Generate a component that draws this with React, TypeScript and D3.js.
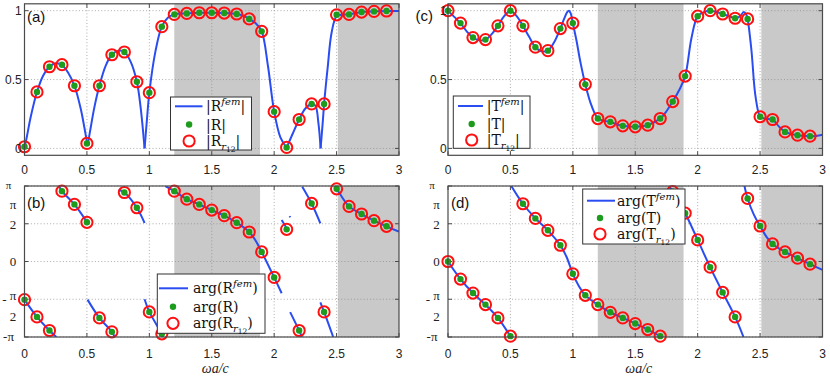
import React from "react";
import * as d3 from "d3";

type Pt = [number, number];

// ---------- data ----------
const omega = [0, 0.1, 0.2, 0.3, 0.4, 0.5, 0.6, 0.7, 0.8, 0.9, 1.0, 1.1, 1.2, 1.3, 1.4, 1.5, 1.6, 1.7, 1.8, 1.9, 2.0, 2.1, 2.2, 2.3, 2.4, 2.5, 2.6, 2.7, 2.8, 2.9];

const absR = [0.012, 0.41, 0.593, 0.608, 0.455, 0.036, 0.455, 0.68, 0.7, 0.484, 0.405, 0.884, 0.973, 0.98, 0.985, 0.985, 0.983, 0.976, 0.94, 0.85, 0.267, 0.007, 0.21, 0.323, 0.323, 0.97, 0.973, 0.99, 0.995, 0.998];
const absT = [1.0, 0.91, 0.805, 0.79, 0.89, 1.0, 0.89, 0.735, 0.71, 0.87, 0.91, 0.465, 0.217, 0.193, 0.164, 0.157, 0.169, 0.217, 0.34, 0.525, 0.96, 1.0, 0.976, 0.945, 0.94, 0.23, 0.21, 0.12, 0.096, 0.089];
// phases in units of pi
const argR = [-0.505, -0.734, -0.914, 0.932, 0.756, 0.519, -0.747, -0.932, 0.914, 0.712, -0.668, -0.958, 0.932, 0.826, 0.756, 0.681, 0.607, 0.514, 0.391, 0.127, -0.211, 0.426, -0.914, 0.769, -0.668, 0.963, 0.73, 0.629, 0.541, 0.466];
const argT = [0, -0.233, -0.418, -0.571, -0.747, -0.989, 0.765, 0.571, 0.413, 0.215, -0.163, -0.448, -0.571, -0.673, -0.747, -0.822, -0.901, -0.989, 0.925, 0.64, 0.286, -0.075, -0.409, -0.734, 0.835, 0.47, 0.233, 0.127, 0.044, -0.035];

const absRFem: Pt[][] = [
  [[0, 0], [0.02, 0.09], [0.05, 0.23], [0.1, 0.41], [0.15, 0.53], [0.2, 0.593], [0.25, 0.618], [0.3, 0.605], [0.35, 0.55], [0.4, 0.455], [0.45, 0.29], [0.48, 0.15], [0.505, 0.02]],
  [[0.505, 0.02], [0.53, 0.15], [0.56, 0.3], [0.6, 0.455], [0.65, 0.6], [0.7, 0.68], [0.75, 0.71], [0.8, 0.7], [0.85, 0.63], [0.9, 0.484], [0.93, 0.3], [0.962, 0]],
  [[0.962, 0], [0.98, 0.2], [1.0, 0.405], [1.05, 0.71], [1.1, 0.884], [1.15, 0.95], [1.2, 0.973], [1.3, 0.98], [1.4, 0.985], [1.5, 0.985], [1.6, 0.983], [1.7, 0.976], [1.75, 0.965], [1.8, 0.94], [1.85, 0.91], [1.9, 0.85], [1.95, 0.6], [2.0, 0.267], [2.05, 0.08], [2.1, 0.005]],
  [[2.1, 0.005], [2.15, 0.11], [2.2, 0.21], [2.25, 0.29], [2.3, 0.323], [2.33, 0.31], [2.355, 0.18], [2.372, 0]],
  [[2.372, 0], [2.39, 0.2], [2.4, 0.323], [2.43, 0.6], [2.46, 0.84], [2.5, 0.96], [2.55, 0.972], [2.6, 0.974], [2.7, 0.99], [2.8, 0.995], [2.9, 0.998], [3.0, 0.998]],
];

const absTFem: Pt[][] = [
  [[0, 1.0], [0.05, 0.955], [0.1, 0.91], [0.15, 0.85], [0.2, 0.805], [0.25, 0.785], [0.3, 0.79], [0.35, 0.83], [0.4, 0.89], [0.45, 0.96], [0.5, 1.0], [0.55, 0.96], [0.6, 0.89], [0.65, 0.81], [0.7, 0.735], [0.75, 0.705], [0.8, 0.71], [0.85, 0.77], [0.9, 0.87], [0.93, 0.94], [0.955, 0.99], [0.97, 1.0], [0.985, 0.975], [1.0, 0.91], [1.03, 0.78], [1.06, 0.63], [1.1, 0.465], [1.15, 0.31], [1.2, 0.22], [1.25, 0.2], [1.3, 0.193], [1.35, 0.175], [1.4, 0.164], [1.5, 0.157], [1.6, 0.169], [1.65, 0.19], [1.7, 0.217], [1.75, 0.27], [1.8, 0.34], [1.85, 0.42], [1.9, 0.525], [1.95, 0.8], [2.0, 0.96], [2.05, 0.99], [2.1, 1.0], [2.15, 0.99], [2.2, 0.976], [2.25, 0.96], [2.3, 0.945], [2.34, 0.96], [2.37, 0.99], [2.39, 0.97], [2.4, 0.94], [2.43, 0.72], [2.46, 0.4], [2.49, 0.25], [2.5, 0.23], [2.55, 0.215], [2.6, 0.21], [2.65, 0.16], [2.7, 0.12], [2.75, 0.105], [2.8, 0.096], [2.9, 0.089], [2.95, 0.09], [3.0, 0.099]],
];

const argRFem: Pt[][] = [
  [[0, -0.505], [0.1, -0.734], [0.2, -0.914], [0.255, -1.0]],
  [[0.277, 1.0], [0.3, 0.932], [0.4, 0.756], [0.505, 0.51]],
  [[0.505, -0.505], [0.6, -0.747], [0.7, -0.932], [0.722, -1.0]],
  [[0.755, 0.95], [0.8, 0.914], [0.9, 0.712], [0.962, 0.51]],
  [[0.962, -0.5], [1.0, -0.668], [1.1, -0.958], [1.11, -1.0]],
  [[1.128, 1.0], [1.2, 0.932], [1.3, 0.826], [1.4, 0.756], [1.5, 0.681], [1.6, 0.607], [1.7, 0.514], [1.8, 0.391], [1.85, 0.28], [1.9, 0.127], [2.0, -0.211], [2.06, -0.42]],
  [[2.06, 0.55], [2.1, 0.44]],
  [[2.124, 0.6], [2.128, 0.585]],
  [[2.128, -0.67], [2.2, -0.914], [2.222, -1.0]],
  [[2.225, 0.99], [2.3, 0.769], [2.37, 0.505]],
  [[2.37, -0.54], [2.4, -0.668], [2.473, -1.0]],
  [[2.48, 1.0], [2.5, 0.963], [2.6, 0.73], [2.7, 0.629], [2.8, 0.541], [2.9, 0.466], [3.0, 0.396]],
];

const argTFem: Pt[][] = [
  [[0, 0], [0.1, -0.233], [0.2, -0.418], [0.3, -0.571], [0.4, -0.747], [0.5, -0.989], [0.505, -1.0]],
  [[0.507, 1.0], [0.6, 0.765], [0.7, 0.571], [0.8, 0.413], [0.9, 0.215], [0.95, 0.06], [1.0, -0.163], [1.05, -0.33], [1.1, -0.448], [1.2, -0.571], [1.3, -0.673], [1.4, -0.747], [1.5, -0.822], [1.6, -0.901], [1.7, -0.989], [1.71, -1.0]],
  [[1.77, 1.0], [1.8, 0.925], [1.9, 0.64], [2.0, 0.286], [2.1, -0.075], [2.2, -0.409], [2.3, -0.734], [2.367, -1.0]],
  [[2.375, 1.0], [2.4, 0.835], [2.45, 0.62], [2.5, 0.47], [2.55, 0.33], [2.6, 0.233], [2.7, 0.127], [2.8, 0.044], [2.9, -0.035], [3.0, -0.11]],
];

const bandStart = [1.2, 2.51];
const bandEnd = [1.887, 3.0];

const xTicks = [0, 0.5, 1, 1.5, 2, 2.5, 3];
const xTickLabels = ["0", "0.5", "1", "1.5", "2", "2.5", "3"];
const absTicks = [0, 0.5, 1];
const absTickLabels = ["0", "0.5", "1"];
const argTicks = [-1, -0.5, 0, 0.5, 1];

// ---------- style ----------
const BLUE = "#2a4df2";
const GREEN = "#1d9b1d";
const RED = "#ff1010";
const FRAME = "#4a4a4a";
const SANS = "'Liberation Sans', Arial, Helvetica, sans-serif";
const SERIF = "'Liberation Serif', 'Times New Roman', serif";
const LSERIF = "'DejaVu Serif', 'Liberation Serif', serif";

type LegendCfg = {
  x: number; y: number; w: number; h: number;
  rows: number[]; lx0: number; lx1: number; mx: number; tx: number;
};

type PanelCfg = {
  id: string;
  x0: number; x1: number; y0: number; y1: number;
  yDom: [number, number];
  phase: boolean;
  fem: Pt[][];
  vals: number[];
  letter: string;
  label: string; labelX: number; labelY: number;
  xLabelDy: number; yLabelGap: number;
  legend: LegendCfg;
};

function legendLabels(phase: boolean, L: string) {
  const sup = (
    <tspan dy={-6} fontSize={10} fontStyle="italic">fem</tspan>
  );
  const open = phase ? "arg(" : "|";
  const close = phase ? ")" : "|";
  return [
    <>{open + L}{sup}<tspan dy={6}>{close}</tspan></>,
    <>{open + L + close}</>,
    <>{open + L}<tspan dy={4} fontSize={10} fontStyle="italic">r</tspan><tspan dy={1.5} fontSize={7.5}>12</tspan><tspan dy={-5.5}>{close}</tspan></>,
  ];
}

function PhaseTickLabels({ x0, ys }: { x0: number; ys: d3.ScaleLinear<number, number> }) {
  const fs = 13;
  const cx = x0 - 11.5;
  const yHalf = ys(0.5);
  const yMHalf = ys(-0.5);
  return (
    <g fontFamily={SERIF} fill="#222" textAnchor="middle">
      <text x={x0 - 16} y={ys(1) + 3} fontSize={11}>π</text>
      <text x={cx} y={yHalf - 14.5} fontSize={fs}>π</text>
      <text x={cx} y={yHalf + 5.5} fontSize={fs}>2</text>
      <text x={cx} y={ys(0) + 4.5} fontSize={fs}>0</text>
      <text x={x0 - 20} y={yMHalf + 5} fontSize={fs}>-</text>
      <text x={cx} y={yMHalf + 0.5} fontSize={fs}>π</text>
      <text x={cx} y={yMHalf + 22} fontSize={fs}>2</text>
      <text x={x0 - 16} y={ys(-1) + 4} fontSize={13}>-π</text>
    </g>
  );
}

function Panel({ cfg }: { cfg: PanelCfg }) {
  const xs = d3.scaleLinear().domain([0, 3]).range([cfg.x0, cfg.x1]);
  const ys = d3.scaleLinear().domain(cfg.yDom).range([cfg.y0, cfg.y1]);
  const line = d3
    .line<Pt>()
    .x((d) => xs(d[0]))
    .y((d) => ys(d[1]))
    .curve(d3.curveCatmullRom.alpha(0.5));
  const yT = cfg.phase ? argTicks : absTicks;
  const clipId = "clip-" + cfg.id;
  const top = ys(cfg.yDom[1]);
  const bottom = ys(cfg.yDom[0]);
  const lg = cfg.legend;
  const labels = legendLabels(cfg.phase, cfg.letter);
  const tickLen = 4;

  return (
    <g>
      <defs>
        <clipPath id={clipId}>
          <rect x={cfg.x0} y={top} width={cfg.x1 - cfg.x0} height={bottom - top} />
        </clipPath>
      </defs>
      <rect x={cfg.x0} y={top} width={cfg.x1 - cfg.x0} height={bottom - top} fill="#fff" />
      {bandStart.map((s, i) => (
        <rect key={i} x={xs(s)} y={top} width={xs(bandEnd[i]) - xs(s)} height={bottom - top} fill="#c9c9c9" />
      ))}
      {/* grid */}
      <g stroke="#8a8a8a" strokeWidth={0.7} strokeDasharray="1,2.2">
        {xTicks.slice(1, -1).map((t) => (
          <line key={"gx" + t} x1={xs(t)} x2={xs(t)} y1={top} y2={bottom} />
        ))}
        {yT.map((t) => (
          <line key={"gy" + t} x1={cfg.x0} x2={cfg.x1} y1={ys(t)} y2={ys(t)} />
        ))}
      </g>
      {/* ticks */}
      <g stroke={FRAME} strokeWidth={1}>
        {xTicks.map((t) => (
          <g key={"tx" + t}>
            <line x1={xs(t)} x2={xs(t)} y1={bottom} y2={bottom - tickLen} />
            <line x1={xs(t)} x2={xs(t)} y1={top} y2={top + tickLen} />
          </g>
        ))}
        {yT.map((t) => (
          <g key={"ty" + t}>
            <line x1={cfg.x0} x2={cfg.x0 + tickLen} y1={ys(t)} y2={ys(t)} />
            <line x1={cfg.x1} x2={cfg.x1 - tickLen} y1={ys(t)} y2={ys(t)} />
          </g>
        ))}
      </g>
      {/* data */}
      <g clipPath={`url(#${clipId})`}>
        {cfg.fem.map((seg, i) => (
          <path key={i} d={line(seg) || ""} fill="none" stroke={BLUE} strokeWidth={2} strokeLinejoin="round" />
        ))}
      </g>
      {omega.map((x, i) => (
        <circle key={"g" + i} cx={xs(x)} cy={ys(cfg.vals[i])} r={3.2} fill={GREEN} />
      ))}
      {omega.map((x, i) => (
        <circle key={"r" + i} cx={xs(x)} cy={ys(cfg.vals[i])} r={5.6} fill="none" stroke={RED} strokeWidth={2} />
      ))}
      {/* frame */}
      <rect x={cfg.x0} y={top} width={cfg.x1 - cfg.x0} height={bottom - top} fill="none" stroke={FRAME} strokeWidth={1.2} />
      {/* x tick labels */}
      <g fontFamily={SANS} fontSize={12} fill="#222" textAnchor="middle">
        {xTicks.map((t, i) => (
          <text key={"xl" + t} x={xs(t)} y={bottom + cfg.xLabelDy}>{xTickLabels[i]}</text>
        ))}
      </g>
      {/* y tick labels */}
      {cfg.phase ? (
        <PhaseTickLabels x0={cfg.x0} ys={ys} />
      ) : (
        <g fontFamily={SANS} fontSize={12} fill="#222" textAnchor="end">
          {absTicks.map((t, i) => (
            <text key={"yl" + t} x={cfg.x0 - cfg.yLabelGap} y={ys(t) + 4.3}>{absTickLabels[i]}</text>
          ))}
        </g>
      )}
      {cfg.phase && (
        <text x={(cfg.x0 + cfg.x1) / 2 + 3.5} y={bottom + 36} fontFamily={SERIF} fontStyle="italic" fontSize={14} textAnchor="middle" fill="#222">
          ωa/c
        </text>
      )}
      <text x={cfg.labelX} y={cfg.labelY} fontFamily={SANS} fontSize={15} fill="#111">{cfg.label}</text>
      {/* legend */}
      <g>
        <rect x={lg.x} y={lg.y} width={lg.w} height={lg.h} fill="#fff" stroke="#333" strokeWidth={1} />
        <line x1={lg.x + lg.lx0} x2={lg.x + lg.lx1} y1={lg.y + lg.rows[0]} y2={lg.y + lg.rows[0]} stroke={BLUE} strokeWidth={2} />
        <circle cx={lg.x + lg.mx} cy={lg.y + lg.rows[1]} r={3.2} fill={GREEN} />
        <circle cx={lg.x + lg.mx} cy={lg.y + lg.rows[2]} r={5.6} fill="none" stroke={RED} strokeWidth={2} />
        {labels.map((lab, i) => (
          <text key={"lt" + i} x={lg.x + lg.tx} y={lg.y + lg.rows[i] + 5} fontFamily={LSERIF} fontSize={14} fill="#111">
            {lab}
          </text>
        ))}
      </g>
    </g>
  );
}

const LEFT_X: [number, number] = [24.5, 399];
const RIGHT_X: [number, number] = [448, 822.5];
const TOP_Y: [number, number] = [155.3, 3.8];
const BOT_Y: [number, number] = [337, 186];

const panels: PanelCfg[] = [
  {
    id: "a", x0: LEFT_X[0], x1: LEFT_X[1], y0: TOP_Y[0], y1: TOP_Y[1], yDom: [-0.05, 1.05], phase: false,
    fem: absRFem, vals: absR, letter: "R", label: "(a)", labelX: 27, labelY: 22, xLabelDy: 18.2, yLabelGap: 2.8,
    legend: { x: 170.5, y: 97, w: 81, h: 53, rows: [9.3, 27.5, 44], lx0: 4.5, lx1: 32, mx: 18.6, tx: 35.5 },
  },
  {
    id: "c", x0: RIGHT_X[0], x1: RIGHT_X[1], y0: TOP_Y[0], y1: TOP_Y[1], yDom: [-0.05, 1.05], phase: false,
    fem: absTFem, vals: absT, letter: "T", label: "(c)", labelX: 415.5, labelY: 20.5, xLabelDy: 18.2, yLabelGap: 1.3,
    legend: { x: 453.3, y: 96, w: 76.7, h: 52.3, rows: [10, 28, 44], lx0: 4.7, lx1: 29.7, mx: 18.4, tx: 33.4 },
  },
  {
    id: "b", x0: LEFT_X[0], x1: LEFT_X[1], y0: BOT_Y[0], y1: BOT_Y[1], yDom: [-1, 1], phase: true,
    fem: argRFem, vals: argR, letter: "R", label: "(b)", labelX: 27, labelY: 208, xLabelDy: 21.3, yLabelGap: 2.8,
    legend: { x: 157.3, y: 274, w: 107.7, h: 59.3, rows: [14.3, 32.7, 49.3], lx0: 1.7, lx1: 30.7, mx: 15.7, tx: 35.7 },
  },
  {
    id: "d", x0: RIGHT_X[0], x1: RIGHT_X[1], y0: BOT_Y[0], y1: BOT_Y[1], yDom: [-1, 1], phase: true,
    fem: argTFem, vals: argT, letter: "T", label: "(d)", labelX: 451, labelY: 208, xLabelDy: 21.3, yLabelGap: 2.8,
    legend: { x: 582.7, y: 189, w: 102.3, h: 55, rows: [11.7, 29, 45], lx0: 4.3, lx1: 32.3, mx: 17.3, tx: 34.3 },
  },
];

export default function App() {
  return (
    <svg width={830} height={380} viewBox="0 0 830 380" style={{ display: "block", position: "absolute", left: 0, top: 0, background: "#fff" }}>
      <rect x={0} y={0} width={830} height={380} fill="#fff" />
      {panels.map((p) => (
        <Panel key={p.id} cfg={p} />
      ))}
    </svg>
  );
}
